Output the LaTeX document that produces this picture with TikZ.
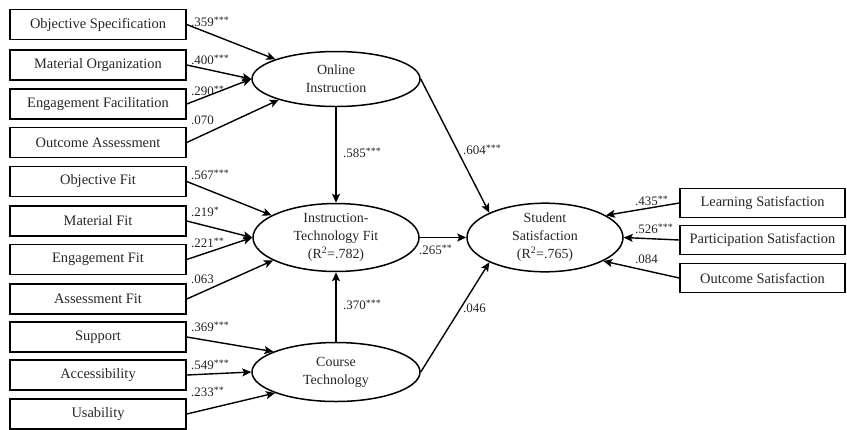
\documentclass[tikz,border=0pt]{standalone}
\usepackage{fontspec}
\setmainfont{Liberation Serif}
\usetikzlibrary{shapes.geometric,arrows.meta}
\newcommand{\sigstars}[1]{\raisebox{0.5ex}{\fontsize{10}{10}\selectfont #1}}
\begin{document}
\begin{tikzpicture}[x=1bp,y=-1bp,
  ibox/.style={draw, line width=1.5bp, minimum width=176bp, minimum height=30bp, inner sep=0pt, font=\fontsize{14.5}{16}\selectfont, text=black!85},
  rbox/.style={draw, line width=1.5bp, minimum width=165bp, minimum height=29bp, inner sep=0pt, font=\fontsize{14.5}{16}\selectfont, text=black!85},
  lat/.style={draw, ellipse, line width=1.5bp, inner sep=0pt, align=center, font=\fontsize{14}{18}\selectfont, text=black!85},
  arr/.style={-{Stealth[length=9bp,width=8bp,inset=2bp]}, line width=1.4bp},
  lbl/.style={inner sep=0pt, anchor=west, font=\fontsize{13}{14}\selectfont, text=black!85}
]
\useasboundingbox (0,0) rectangle (847,429);
% left boxes
\node[ibox] (os) at (98,24.5) {Objective Specification};
\node[ibox] (mo) at (98,65) {Material Organization};
\node[ibox] (ef) at (98,104) {Engagement Facilitation};
\node[ibox] (oa) at (98,142.5) {Outcome Assessment};
\node[ibox] (of) at (98,181.5) {Objective Fit};
\node[ibox] (mf) at (98,221) {Material Fit};
\node[ibox] (egf) at (98,259.5) {Engagement Fit};
\node[ibox] (af) at (98,299) {Assessment Fit};
\node[ibox] (su) at (98,337) {Support};
\node[ibox] (ac) at (98,375) {Accessibility};
\node[ibox] (us) at (98,414) {Usability};
% right boxes
\node[rbox] (ls) at (762.5,203) {Learning Satisfaction};
\node[rbox] (ps) at (762.5,240) {Participation Satisfaction};
\node[rbox] (ous) at (762.5,278) {Outcome Satisfaction};
% latent
\node[lat, minimum width=168bp, minimum height=55bp] (oi) at (336,79) {Online\\Instruction};
\node[lat, minimum width=166bp, minimum height=58bp] (itf) at (336,237.5) {Instruction-\\Technology Fit\\(R\textsuperscript{2}=.782)};
\node[lat, minimum width=168bp, minimum height=59bp] (ct) at (336,372) {Course\\Technology};
\node[lat, minimum width=156bp, minimum height=59bp] (ss) at (545,237.5) {Student\\Satisfaction\\(R\textsuperscript{2}=.765)};
% arrows to Online Instruction
\draw[arr] (os.east) -- (oi.162);
\draw[arr] (mo.east) -- (oi.west);
\draw[arr] (ef.east) -- (oi.west);
\draw[arr] (oa.east) -- (oi.200);
% arrows to ITF
\draw[arr] (of.east) -- (itf.161);
\draw[arr] (mf.east) -- (itf.west);
\draw[arr] (egf.east) -- (itf.west);
\draw[arr] (af.east) -- (itf.200);
% arrows to CT
\draw[arr] (su.east) -- (ct.162);
\draw[arr] (ac.east) -- (ct.west);
\draw[arr] (us.east) -- (ct.199);
% structural
\draw[arr] (oi.south) -- (itf.north);
\draw[arr] (ct.north) -- (itf.south);
\draw[arr] (itf.east) -- (ss.west);
\draw[arr] (oi.east) -- (ss.156);
\draw[arr] (ct.east) -- (ss.204);
% right
\draw[arr] (ls.west) -- (ss.20);
\draw[arr] (ps.west) -- (ss.east);
\draw[arr] (ous.west) -- (ss.338);
% labels
\node[lbl] (l1) at (191,22) {.359\sigstars{***}};
\node[lbl] (l2) at (191,60) {.400\sigstars{***}};
\node[lbl] (l3) at (191,91) {.290\sigstars{**}};
\node[lbl] (l4) at (191,120) {.070};
\node[lbl] (l5) at (191,175) {.567\sigstars{***}};
\node[lbl] (l6) at (191,212) {.219\sigstars{*}};
\node[lbl] (l7) at (191,243) {.221\sigstars{**}};
\node[lbl] (l8) at (191,279) {.063};
\node[lbl] (l9) at (191,327) {.369\sigstars{***}};
\node[lbl] (l10) at (191,365) {.549\sigstars{***}};
\node[lbl] (l11) at (191,392) {.233\sigstars{**}};
\node[lbl] (l12) at (343,153) {.585\sigstars{***}};
\node[lbl] (l13) at (343,305) {.370\sigstars{***}};
\node[lbl] (l14) at (463,150) {.604\sigstars{***}};
\node[lbl] (l15) at (419,250) {.265\sigstars{**}};
\node[lbl] (l16) at (463,308) {.046};
\node[lbl] (l17) at (635,201) {.435\sigstars{**}};
\node[lbl] (l18) at (635,229) {.526\sigstars{***}};
\node[lbl] (l19) at (635,259) {.084};
\end{tikzpicture}
\end{document}
